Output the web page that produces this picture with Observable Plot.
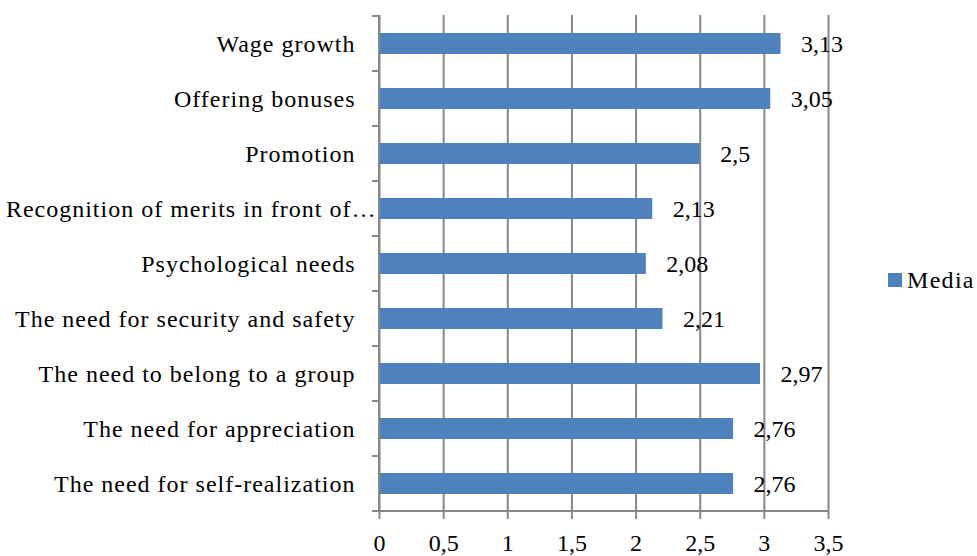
<!DOCTYPE html>
<html><head><meta charset="utf-8">
<script src="https://cdn.jsdelivr.net/npm/d3@7"></script>
<script src="https://cdn.jsdelivr.net/npm/@observablehq/plot@0.6"></script>
<style>
body{margin:0;background:#fff;}
#wrap{position:relative;width:977px;height:556px;overflow:hidden;}
#wrap svg{position:absolute;left:0;top:0;}
.lg-sw{position:absolute;left:888px;top:273px;width:14px;height:14px;background:#4F81BD;}
.lg-tx{position:absolute;left:907px;top:268px;font-size:24px;line-height:24px;color:#000;white-space:nowrap;letter-spacing:1.3px;}
</style></head><body><div id="wrap"></div>
<script>
const categories = [
  "Wage growth",
  "Offering bonuses",
  "Promotion",
  "Recognition of merits in front of…",
  "Psychological needs",
  "The need for security and safety",
  "The need to belong to a group",
  "The need for appreciation",
  "The need for self-realization"
];
const values = [3.13, 3.05, 2.5, 2.13, 2.08, 2.21, 2.97, 2.76, 2.76];
const valueLabels = ["3,13", "3,05", "2,5", "2,13", "2,08", "2,21", "2,97", "2,76", "2,76"];
const xTicks = [0, 0.5, 1, 1.5, 2, 2.5, 3, 3.5];
const xTickLabels = ["0", "0,5", "1", "1,5", "2", "2,5", "3", "3,5"];
const seriesName = "Media";
const barColor = "#4F81BD";
const gray = "#878787";
const fam = "Liberation Serif";
const serifFont = `"${fam}", serif`;

const data = categories.map((c, i) => ({category: c, value: values[i], label: valueLabels[i]}));

// boundary tick marks, y-axis line and x-axis line drawn from the scales
function axesLines(index, scales) {
  const x = scales.x, y = scales.y;
  const bw = typeof y.bandwidth === "function" ? y.bandwidth() : y.bandwidth;
  const step = y(categories[1]) - y(categories[0]);
  const half = (step - bw) / 2;
  const bounds = categories.map(c => y(c) - half);
  bounds.push(y(categories[categories.length - 1]) + bw + half);
  const x0 = x(xTicks[0]), x1 = x(xTicks[xTicks.length - 1]);
  const g = d3.create("svg:g").attr("stroke", gray).attr("stroke-width", 2).attr("fill", "none");
  g.append("line").attr("x1", x0).attr("x2", x0).attr("y1", bounds[0]).attr("y2", bounds[bounds.length - 1]);
  for (const b of bounds) g.append("line").attr("x1", x0 - 7).attr("x2", x0).attr("y1", b).attr("y2", b);
  const yb = bounds[bounds.length - 1];
  g.append("line").attr("x1", x0 - 7).attr("x2", x1).attr("y1", yb).attr("y2", yb);
  return g.node();
}

const chart = Plot.plot({
  width: 977,
  height: 556,
  marginLeft: 379,
  marginRight: 149,
  marginTop: 15,
  marginBottom: 45,
  style: {fontSize: "24px", background: "#fff", color: "#000"},
  x: {domain: [0, 3.5], label: null},
  y: {domain: categories, paddingInner: 0.62, paddingOuter: 0.31, label: null},
  marks: [
    Plot.gridX(xTicks, {stroke: gray, strokeOpacity: 1, strokeWidth: 2}),
    Plot.barX(data, {y: "category", x: "value", fill: barColor}),
    Plot.text(data, {y: "category", x: "value", text: "label", textAnchor: "start", dx: 20, fill: "#000"}),
    axesLines,
    Plot.axisX({ticks: xTicks, tickFormat: d => xTickLabels[xTicks.indexOf(d)], tickSize: 8, tickPadding: 14, stroke: gray, strokeWidth: 2, label: null}),
    Plot.axisY({tickSize: 0, tickPadding: 3, tickFormat: d => d.endsWith("…") ? d : d + "\u00a0\u00a0\u00a0", label: null})
  ]
});

chart.style.fontFamily = serifFont;
for (const t of chart.querySelectorAll("text")) t.style.fontFamily = serifFont;
for (const t of chart.querySelectorAll('g[aria-label="y-axis tick label"] text')) t.style.letterSpacing = "1px";

const wrap = document.getElementById("wrap");
wrap.appendChild(chart);
const sw = document.createElement("div"); sw.className = "lg-sw"; wrap.appendChild(sw);
const tx = document.createElement("div"); tx.className = "lg-tx"; tx.style.fontFamily = serifFont; tx.textContent = seriesName; wrap.appendChild(tx);
</script>
</body></html>
